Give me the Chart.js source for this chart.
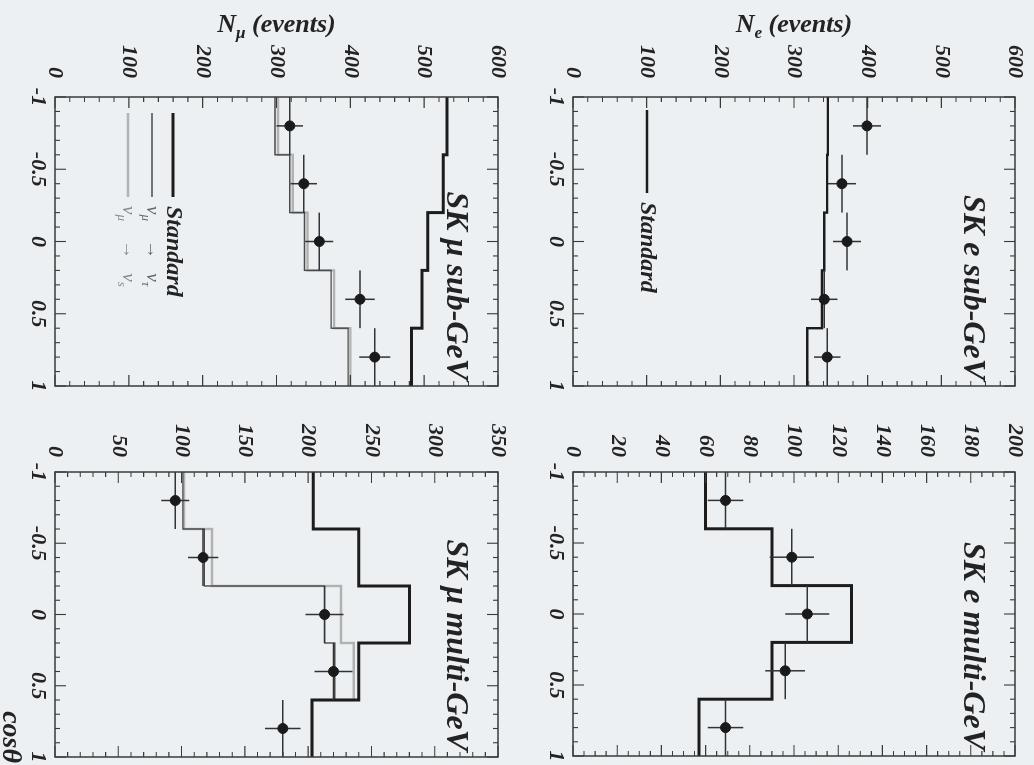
<!DOCTYPE html>
<html>
<head>
<meta charset="utf-8">
<script src="https://cdn.jsdelivr.net/npm/chart.js@4.4.1/dist/chart.umd.min.js"></script>
<style>
  html, body { margin: 0; padding: 0; background: #edf0f2; overflow: hidden; }
  body { width: 1034px; height: 765px; position: relative; }
  /* The figure is laid out upright (765 x 1034) and turned a quarter turn clockwise. */
  #figure {
    position: absolute; left: 0; top: 0; width: 765px; height: 1034px;
    transform-origin: 0 0; transform: translate(1034px, 0) rotate(90deg);
  }
  #figure canvas { position: absolute; }
</style>
</head>
<body>
<div id="figure">
  <canvas id="eSub"    width="392" height="496" style="left:0px;top:5px"></canvas>
  <canvas id="eMulti"  width="362" height="496" style="left:400px;top:5px"></canvas>
  <canvas id="muSub"   width="392" height="497" style="left:0px;top:522px"></canvas>
  <canvas id="muMulti" width="365" height="512" style="left:400px;top:522px"></canvas>
</div>
<script>
// Zenith-angle bins (cos theta)
const cosEdges   = [-1, -0.6, -0.2, 0.2, 0.6, 1];
const cosCenters = [-0.8, -0.4, 0, 0.4, 0.8];
const cosTicks   = [-1, -0.5, 0, 0.5, 1];

// SK e sub-GeV
const eSubTicks    = [0, 100, 200, 300, 400, 500, 600];
const eSubStandard = [346, 345, 341, 338, 318];
const eSubData     = [399, 365, 372, 341, 345];
const eSubErr      = [19, 19, 19, 18, 18];

// SK e multi-GeV
const eMultiTicks    = [0, 20, 40, 60, 80, 100, 120, 140, 160, 180, 200];
const eMultiStandard = [60, 90, 126, 90, 57];
const eMultiData     = [69, 99, 106, 96, 69];
const eMultiErr      = [8, 10, 10, 9, 8];

// SK mu sub-GeV
const muSubTicks    = [0, 100, 200, 300, 400, 500, 600];
const muSubStandard = [531, 526, 505, 497, 483];
const muSubNuTau    = [298, 318, 338, 374, 397];
const muSubNuS      = [302, 322, 342, 378, 400];
const muSubData     = [318, 337, 358, 413, 433];
const muSubErr      = [18, 18, 19, 20, 21];

// SK mu multi-GeV
const muMultiTicks    = [0, 50, 100, 150, 200, 250, 300, 350];
const muMultiStandard = [204, 240, 280, 240, 203];
const muMultiNuTau    = [101, 118, 213, 221, 203];
const muMultiNuS      = [102, 124, 226, 236, 203];
const muMultiData     = [95, 117, 213, 220, 180];
const muMultiErr      = [11, 12, 15, 15, 14];

const serif = "'Liberation Serif', 'DejaVu Serif', serif";
const ink = '#232323';
const font = (size, weight = 'bold', style = 'italic') => `${style} ${weight} ${size}px ${serif}`;

const STYLE = {
  standard: { color: '#1c1c1c', width: 3 },
  nuTau:    { color: '#4a4a4a', width: 1.4 },
  nuS:      { color: '#b2b2b2', width: 2.4 }
};

// histogram outline: flat top across each bin, joined at the bin edges
function stepLine(values) {
  const pts = [];
  values.forEach((v, i) => pts.push({ x: cosEdges[i], y: v }, { x: cosEdges[i + 1], y: v }));
  return pts;
}

// bin-width bar and statistical bar for every measured point, separated by gaps
function errorBars(values, errs) {
  const pts = [];
  values.forEach((v, i) => {
    pts.push({ x: cosEdges[i], y: v }, { x: cosEdges[i + 1], y: v }, { x: cosCenters[i], y: null });
    pts.push({ x: cosCenters[i], y: v - errs[i] }, { x: cosCenters[i], y: v + errs[i] }, { x: cosCenters[i], y: null });
  });
  return pts;
}

function histDataset(label, values, style) {
  return { type: 'line', label, data: stepLine(values), borderColor: style.color, borderWidth: style.width,
           pointRadius: 0, fill: false, tension: 0, order: 3 };
}

function dataDatasets(values, errs) {
  return [
    { type: 'line', label: 'err', data: errorBars(values, errs), borderColor: '#333', borderWidth: 1.5,
      pointRadius: 0, spanGaps: false, fill: false, order: 2 },
    { type: 'scatter', label: 'SK data', data: values.map((v, i) => ({ x: cosCenters[i], y: v })),
      pointRadius: 5, pointBackgroundColor: '#1a1a1a', pointBorderColor: '#1a1a1a', showLine: false, order: 1 }
  ];
}

// text with lowered subscripts, e.g. N_e, nu_mu
function drawRich(ctx, parts, x, y, size, align, weight = 'bold', style = 'italic') {
  const subSize = Math.round(size * 0.66);
  const ws = parts.map(p => { ctx.font = font(p.sub ? subSize : size, weight, style); return ctx.measureText(p.t).width; });
  const total = ws.reduce((s, w) => s + w, 0);
  let cx = align === 'center' ? x - total / 2 : align === 'right' ? x - total : x;
  ctx.textAlign = 'left';
  ctx.textBaseline = 'middle';
  parts.forEach((p, i) => {
    ctx.font = font(p.sub ? subSize : size, weight, style);
    ctx.fillText(p.t, cx, y + (p.sub ? size * 0.32 : 0));
    cx += ws[i];
  });
}

// frame with inward ticks on all four sides, panel title, axis titles, legend
const decor = {
  id: 'decor',
  afterDatasetsDraw(chart, args, o) {
    const { ctx, chartArea: a, scales: { x, y } } = chart;
    ctx.save();
    ctx.strokeStyle = '#3a3a3a';
    ctx.lineWidth = 1.5;
    ctx.strokeRect(a.left, a.top, a.right - a.left, a.bottom - a.top);

    ctx.lineWidth = 1.1;
    ctx.beginPath();
    for (let i = 0; i <= 20; i++) {
      const px = x.getPixelForValue(-1 + i * 0.1);
      const len = i % 5 === 0 ? 11 : 5;
      ctx.moveTo(px, a.bottom); ctx.lineTo(px, a.bottom - len);
      ctx.moveTo(px, a.top);    ctx.lineTo(px, a.top + len);
    }
    const n = Math.round(y.max / o.yMinor);
    const per = Math.round(o.yMajor / o.yMinor);
    for (let i = 0; i <= n; i++) {
      const py = y.getPixelForValue(i * o.yMinor);
      const len = i % per === 0 ? 11 : 5;
      ctx.moveTo(a.left, py);  ctx.lineTo(a.left + len, py);
      ctx.moveTo(a.right, py); ctx.lineTo(a.right - len, py);
    }
    ctx.stroke();

    ctx.fillStyle = ink;
    ctx.font = font(32);
    ctx.textAlign = 'right';
    ctx.textBaseline = 'middle';
    ctx.fillText(o.title, a.right - 6, a.top + 43);

    if (o.yTitle) {
      ctx.save();
      ctx.translate(25, (a.top + a.bottom) / 2);
      ctx.rotate(-Math.PI / 2);
      drawRich(ctx, o.yTitle, 0, 0, 26, 'center');
      ctx.restore();
    }

    if (o.xTitle) {
      ctx.font = font(28);
      ctx.textAlign = 'right';
      ctx.textBaseline = 'middle';
      ctx.fillText(o.xTitle, a.right + 6, a.bottom + 45);
    }

    (o.legend || []).forEach(item => {
      const ds = chart.data.datasets[item.index];
      const ly = a.top + item.dy;
      ctx.strokeStyle = ds.borderColor;
      ctx.lineWidth = ds.borderWidth;
      ctx.beginPath();
      ctx.moveTo(a.left + item.x0, ly);
      ctx.lineTo(a.left + item.x1, ly);
      ctx.stroke();
      ctx.fillStyle = item.color;
      drawRich(ctx, item.parts, a.left + item.x1 + 9, ly, item.size, 'left', item.weight, 'italic');
    });
    ctx.restore();
  }
};

function panel(id, cfg) {
  const tickFont = { family: serif, size: 22, weight: 'bold', style: 'italic' };
  new Chart(document.getElementById(id), {
    type: 'line',
    data: { datasets: cfg.datasets },
    options: {
      responsive: false,
      animation: false,
      events: [],
      layout: { padding: { top: 14, right: cfg.padRight, left: 0, bottom: 0 } },
      plugins: {
        legend: { display: false },
        tooltip: { enabled: false },
        decor: cfg.decor
      },
      scales: {
        x: {
          type: 'linear', min: -1, max: 1,
          afterBuildTicks: s => { s.ticks = cosTicks.map(v => ({ value: v })); },
          ticks: { font: tickFont, color: ink, padding: 4, autoSkip: false, maxRotation: 0,
                   callback: v => String(v) },
          grid: { display: false, drawTicks: false },
          border: { display: false },
          afterFit: s => { s.height = cfg.xHeight; s.paddingLeft = 0; s.paddingRight = 0; }
        },
        y: {
          type: 'linear', min: 0, max: cfg.yTicks[cfg.yTicks.length - 1],
          afterBuildTicks: s => { s.ticks = cfg.yTicks.map(v => ({ value: v })); },
          ticks: { font: tickFont, color: ink, padding: cfg.yPad, autoSkip: false },
          grid: { display: false, drawTicks: false },
          border: { display: false },
          afterFit: s => { s.width = cfg.yWidth; s.paddingTop = 0; s.paddingBottom = 0; }
        }
      }
    },
    plugins: [decor]
  });
}

const nuTauParts = [{ t: 'ν' }, { t: 'μ', sub: true }, { t: '    →   ν' }, { t: 'τ', sub: true }];
const nuSParts   = [{ t: 'ν' }, { t: 'μ', sub: true }, { t: '    →   ν' }, { t: 's', sub: true }];

panel('eSub', {
  yTicks: eSubTicks, yWidth: 97, yPad: 19, xHeight: 40, padRight: 5,
  datasets: [histDataset('Standard', eSubStandard, { color: '#1c1c1c', width: 2.4 }), ...dataDatasets(eSubData, eSubErr)],
  decor: {
    title: 'SK e sub-GeV', yMajor: 100, yMinor: 20,
    yTitle: [{ t: 'N' }, { t: 'e', sub: true }, { t: ' (events)' }],
    legend: [{ index: 0, parts: [{ t: 'Standard' }], dy: 368, x0: 13, x1: 96, size: 24, weight: 'bold', color: ink }]
  }
});

panel('eMulti', {
  yTicks: eMultiTicks, yWidth: 72, yPad: 15, xHeight: 40, padRight: 5,
  datasets: [histDataset('Standard', eMultiStandard, STYLE.standard), ...dataDatasets(eMultiData, eMultiErr)],
  decor: { title: 'SK e multi-GeV', yMajor: 20, yMinor: 5 }
});

panel('muSub', {
  yTicks: muSubTicks, yWidth: 97, yPad: 19, xHeight: 40, padRight: 5,
  datasets: [
    histDataset('Standard', muSubStandard, STYLE.standard),
    histDataset('νμ → ντ', muSubNuTau, STYLE.nuTau),
    histDataset('νμ → νs', muSubNuS, STYLE.nuS),
    ...dataDatasets(muSubData, muSubErr)
  ],
  decor: {
    title: 'SK μ sub-GeV', yMajor: 100, yMinor: 20,
    yTitle: [{ t: 'N' }, { t: 'μ', sub: true }, { t: ' (events)' }],
    legend: [
      { index: 0, parts: [{ t: 'Standard' }], dy: 325, x0: 16, x1: 100, size: 24, weight: 'bold', color: ink },
      { index: 1, parts: nuTauParts, dy: 346, x0: 16, x1: 100, size: 19, weight: 'normal', color: '#666' },
      { index: 2, parts: nuSParts,   dy: 370, x0: 16, x1: 100, size: 19, weight: 'normal', color: '#888' }
    ]
  }
});

panel('muMulti', {
  yTicks: muMultiTicks, yWidth: 72, yPad: 15, xHeight: 55, padRight: 8,
  datasets: [
    histDataset('Standard', muMultiStandard, STYLE.standard),
    histDataset('νμ → ντ', muMultiNuTau, STYLE.nuTau),
    histDataset('νμ → νs', muMultiNuS, STYLE.nuS),
    ...dataDatasets(muMultiData, muMultiErr)
  ],
  decor: { title: 'SK μ multi-GeV', yMajor: 50, yMinor: 10, xTitle: 'cosθ' }
});
</script>
</body>
</html>
